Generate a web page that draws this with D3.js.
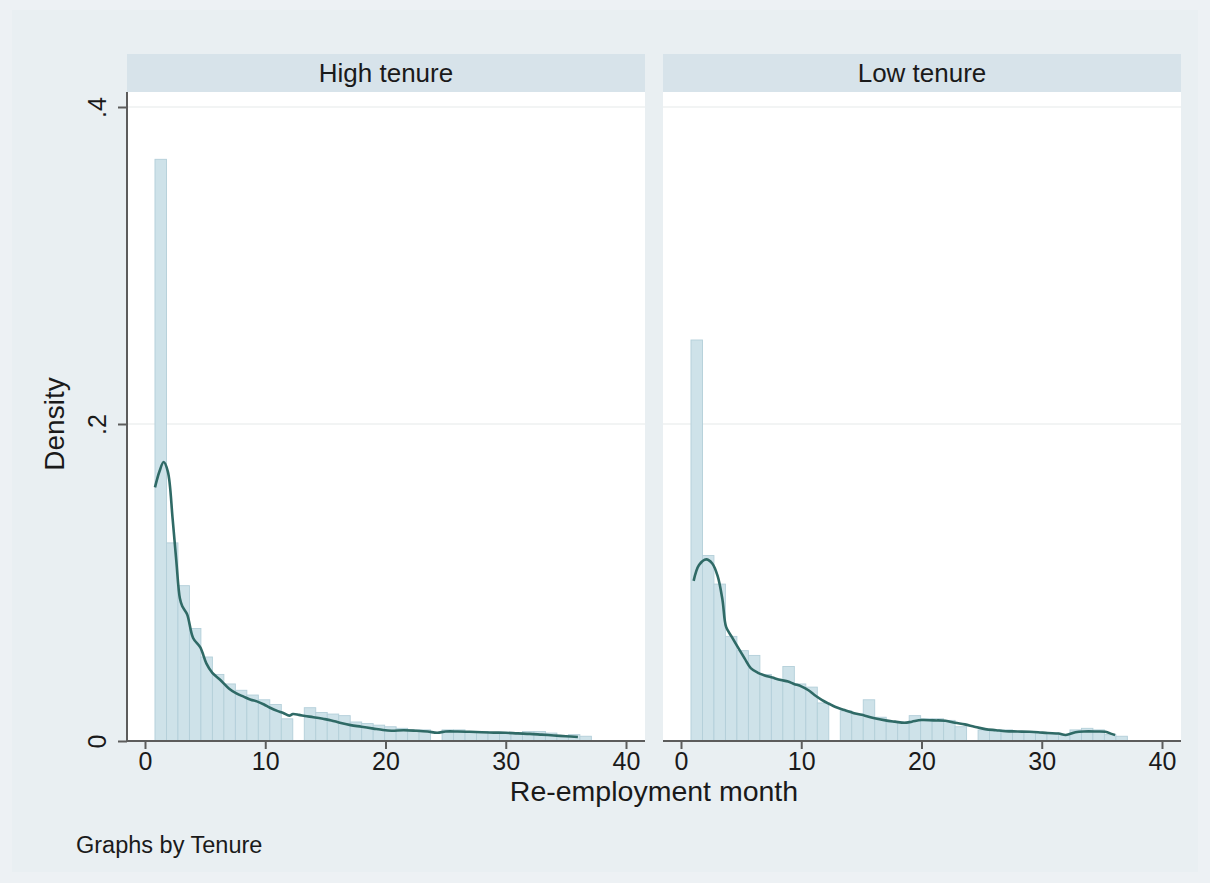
<!DOCTYPE html>
<html>
<head>
<meta charset="utf-8">
<script src="https://cdn.jsdelivr.net/npm/d3@7"></script>
<style>
  body { margin: 0; background: #eaf0f3; }
  svg { display: block; font-family: "Liberation Sans", Arial, sans-serif; }
</style>
</head>
<body>
<svg id="chart" width="1210" height="883"></svg>
<script>
// panels (by Tenure)
var panels = ["High tenure", "Low tenure"];

// histogram bins: start + width, heights are densities
var binStart = 0.83;
var binWidth = 0.955;
var highDensity = [.367, .125, .098, .071, .053, .042, .036, .032, .029, .026, .023, .014, 0,
  .021, .018, .017, .016, .012, .011, .010, .009, .008, .007, .007, 0,
  .007, .007, .006, .006, .005, .005, .005, .006, .006, .005, .003, .004, .003];
var lowDensity = [.253, .117, .099, .066, .057, .054, .042, .039, .047, .036, .034, .024, 0,
  .019, .017, .026, .015, .012, .012, .016, .014, .014, .013, .009, 0,
  .007, .007, .007, .006, .006, .005, .005, .004, .007, .008, .007, .004, .003];

// kernel density estimates [month, density]
var highKdens = [[0.83,.160],[1.2,.170],[1.55,.176],[1.9,.170],[2.3,.140],[2.6,.114],[2.9,.090],[3.1,.085],
  [3.5,.080],[4.0,.065],[4.6,.059],[5.1,.049],[5.6,.043],[6.2,.039],[7.0,.033],[7.6,.030],[8.2,.028],
  [8.8,.026],[9.3,.025],[9.9,.023],[10.4,.021],[11.0,.019],[11.5,.0177],[12.0,.016],[12.3,.017],
  [12.8,.0165],[13.3,.0158],[14.0,.015],[14.8,.014],[15.5,.013],[16.2,.0115],[17.1,.010],[18.0,.009],
  [19.0,.0078],[19.8,.0069],[20.5,.0065],[21.5,.0068],[22.5,.0065],[23.5,.006],[24.3,.0052],[25.0,.006],
  [26.0,.006],[27.0,.0058],[28.0,.0055],[29.0,.0053],[30.0,.0052],[31.0,.0048],[32.0,.0045],[33.0,.004],
  [34.0,.0035],[35.0,.003],[36.0,.0025]];
var lowKdens = [[1.05,.101],[1.5,.111],[2.1,.1146],[2.6,.112],[3.05,.104],[3.45,.089],[3.75,.072],[4.2,.066],
  [4.7,.0595],[5.3,.052],[5.8,.046],[6.4,.043],[6.9,.0415],[7.6,.040],[8.3,.0385],[8.9,.0375],[9.4,.036],
  [10.0,.0345],[10.6,.032],[11.1,.029],[11.7,.026],[12.3,.0235],[12.8,.0216],[13.6,.0195],[14.4,.0175],
  [15.3,.016],[16.1,.0143],[17.0,.013],[17.8,.0122],[18.6,.0115],[19.2,.0122],[20.0,.0132],[21.0,.013],
  [22.0,.0128],[22.8,.0115],[23.6,.0105],[24.4,.009],[25.3,.0075],[26.2,.0068],[27.0,.0062],[28.0,.006],
  [29.0,.0058],[29.7,.0055],[30.5,.005],[31.4,.0047],[32.0,.0038],[32.8,.0055],[33.5,.006],[34.5,.006],
  [35.3,.0058],[35.8,.0045],[36.1,.0038]];

var xTicks = [0, 10, 20, 30, 40];
var yTicks = [0, .2, .4];
var yTickLabels = ["0", ".2", ".4"];

var translate = function(x, y) { return "translate(" + x + "," + y + ")"; };

var svg = d3.select("#chart");

// whole graph region
svg.append("rect").attr("width", 1210).attr("height", 883).style("fill", "#edf1f4");
svg.append("rect").attr("x", 12).attr("y", 10).attr("width", 1186).attr("height", 862).style("fill", "#e9eff2");

var panelX = [127, 663];
var panelW = 518;
var stripTop = 54, stripH = 38;
var plotTop = stripTop + stripH;
var plotBottom = 741;

var y = d3.scaleLinear().domain([0, .4]).range([plotBottom, 107]);

var series = [
  { bars: highDensity, kd: highKdens },
  { bars: lowDensity, kd: lowKdens }
];

panels.forEach(function(name, p) {
  var g = svg.append("g").attr("transform", translate(panelX[p], 0));
  var x = d3.scaleLinear().domain([0, 40]).range([18, 499]);

  // strip
  g.append("rect")
    .attr("x", 0).attr("y", stripTop)
    .attr("width", panelW).attr("height", stripH)
    .style("fill", "#d7e3ea");
  g.append("text")
    .attr("x", panelW / 2).attr("y", stripTop + stripH / 2)
    .attr("dy", ".36em")
    .attr("text-anchor", "middle")
    .style("font-size", "26px")
    .style("fill", "#1a1a1a")
    .text(name);

  // plot region
  g.append("rect")
    .attr("x", 0).attr("y", plotTop)
    .attr("width", panelW).attr("height", plotBottom - plotTop)
    .style("fill", "white");

  // gridlines
  g.selectAll(".grid")
    .data(yTicks.slice(1))
    .enter().append("line")
    .attr("x1", 0).attr("x2", panelW)
    .attr("y1", function(d) { return y(d); })
    .attr("y2", function(d) { return y(d); })
    .style("stroke", "#eef0f1")
    .style("stroke-width", 1.5);

  // histogram
  g.selectAll(".bar")
    .data(series[p].bars)
    .enter().append("rect")
    .attr("class", "bar")
    .attr("x", function(d, i) { return x(binStart + i * binWidth); })
    .attr("width", function(d, i) { return x(binStart + (i + 1) * binWidth) - x(binStart + i * binWidth); })
    .attr("y", function(d) { return y(d); })
    .attr("height", function(d) { return plotBottom - y(d); })
    .style("fill", function(d) { return d > 0 ? "#cee2e9" : "none"; })
    .style("stroke", function(d) { return d > 0 ? "#b3cfd9" : "none"; })
    .style("stroke-width", 0.9);

  // kernel density
  var line = d3.line()
    .x(function(d) { return x(d[0]); })
    .y(function(d) { return y(d[1]); })
    .curve(d3.curveCatmullRom.alpha(0.5));
  g.append("path")
    .datum(series[p].kd)
    .attr("d", line)
    .style("fill", "none")
    .style("stroke", "#2f6a66")
    .style("stroke-width", 2.6)
    .style("stroke-linejoin", "round");

  // x axis
  var xAxis = d3.axisBottom(x).tickValues(xTicks).tickSize(8).tickPadding(3).tickFormat(d3.format("d"));
  var gx = g.append("g").attr("transform", translate(0, plotBottom)).call(xAxis);
  gx.select(".domain").attr("d", "M0,0H" + panelW).style("stroke", "#5c5c5c").style("stroke-width", 2);
  gx.selectAll(".tick line").style("stroke", "#5c5c5c").style("stroke-width", 2);
  gx.selectAll(".tick text")
    .style("font-size", "25px")
    .style("fill", "#1a1a1a")
    .style("font-family", "'Liberation Sans', Arial, sans-serif");

  // y axis on the first panel only
  if (p === 0) {
    var yAxis = d3.axisLeft(y).tickValues(yTicks).tickSize(9).tickPadding(0)
      .tickFormat(function(d, i) { return yTickLabels[i]; });
    var gy = g.append("g").call(yAxis);
    gy.select(".domain").attr("d", "M0," + plotBottom + "V" + plotTop).style("stroke", "#5c5c5c").style("stroke-width", 2);
    gy.selectAll(".tick line").style("stroke", "#5c5c5c").style("stroke-width", 2);
    gy.selectAll(".tick text")
      .attr("x", 0).attr("dy", null)
      .attr("transform", "translate(-21,0) rotate(-90)")
      .attr("text-anchor", "middle")
      .style("font-size", "25px")
      .style("fill", "#1a1a1a")
      .style("font-family", "'Liberation Sans', Arial, sans-serif");
  }
});

// axis titles
svg.append("text")
  .attr("transform", translate(64, (plotBottom + 107) / 2) + " rotate(-90)")
  .attr("text-anchor", "middle")
  .style("font-size", "28px")
  .style("fill", "#1a1a1a")
  .text("Density");

svg.append("text")
  .attr("x", (panelX[0] + panelX[1] + panelW) / 2)
  .attr("y", 801)
  .attr("text-anchor", "middle")
  .style("font-size", "28.5px")
  .style("fill", "#1a1a1a")
  .text("Re-employment month");

svg.append("text")
  .attr("x", 76)
  .attr("y", 853)
  .style("font-size", "23.5px")
  .style("fill", "#1a1a1a")
  .text("Graphs by Tenure");
</script>
</body>
</html>
